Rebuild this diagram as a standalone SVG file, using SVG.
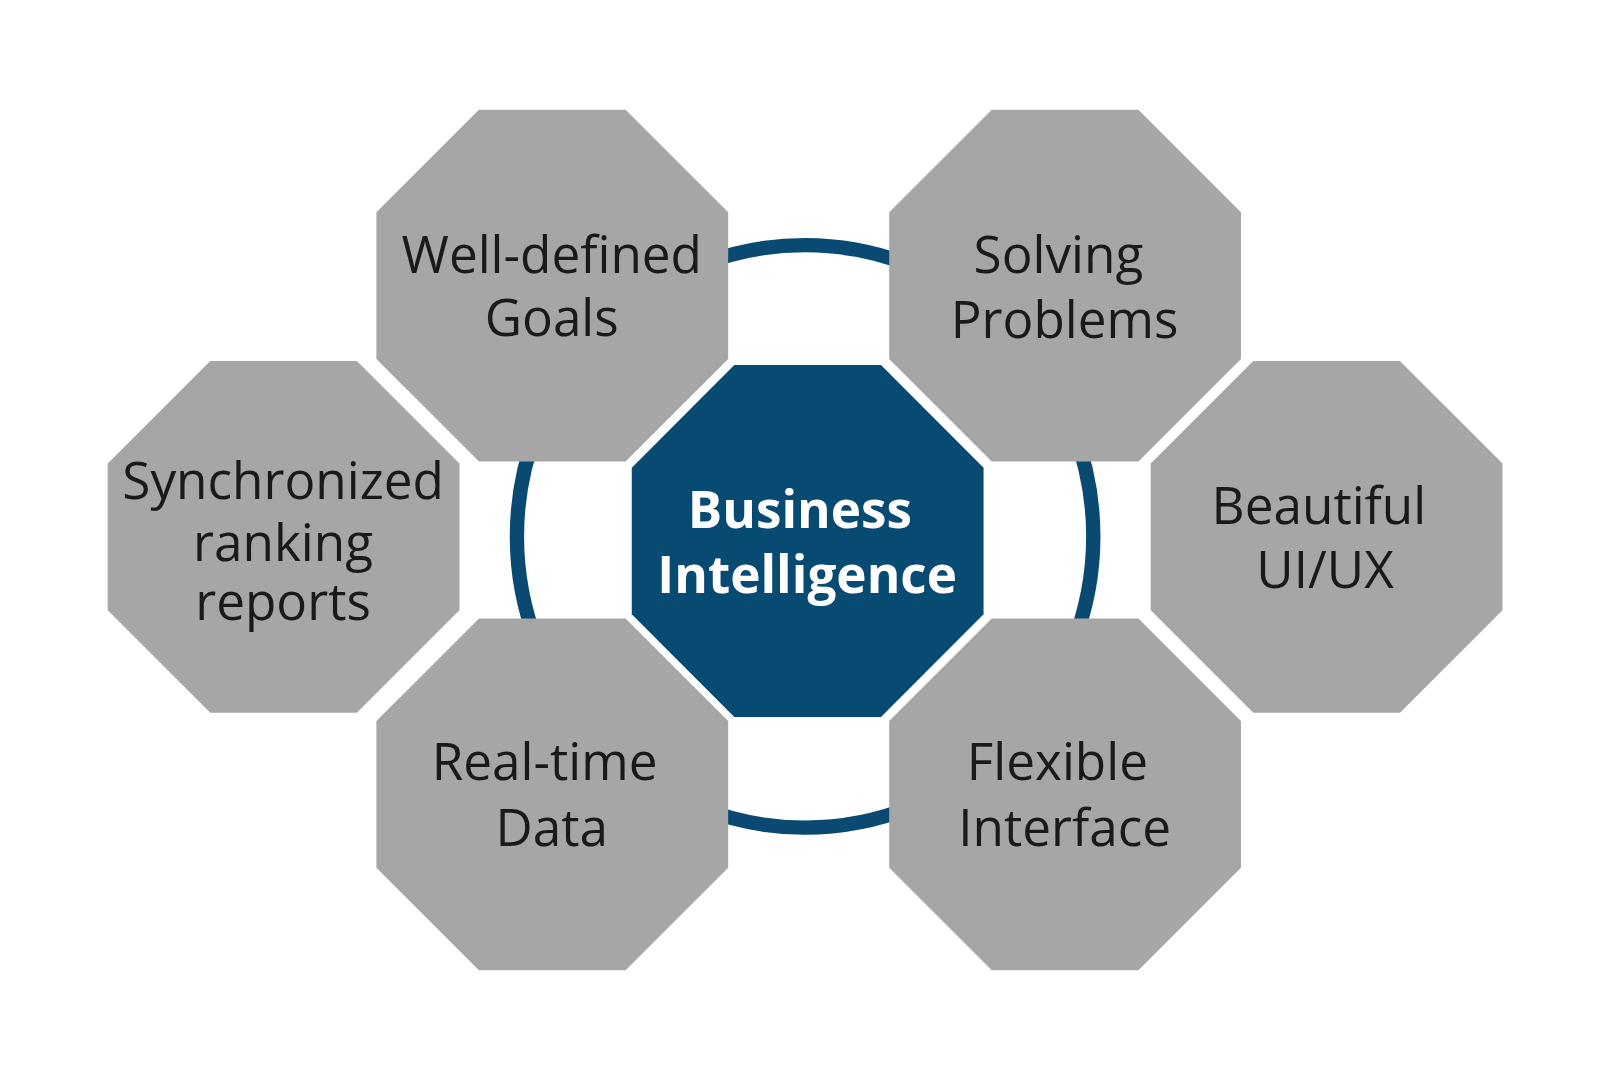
<svg xmlns="http://www.w3.org/2000/svg" width="1600" height="1069" viewBox="0 0 1600 1069">
<style>
.o{fill:#a6a6a6}
.t{font-family:"Open Sans","Noto Sans",sans-serif;font-size:50px;fill:#1a1a1a;text-anchor:middle}
.c{font-family:"Open Sans","Noto Sans",sans-serif;font-size:50px;font-weight:bold;fill:#fff;text-anchor:middle}
</style>
<defs>
<polygon id="oct" points="100,0 243,0 343,100 343,243 243,343 100,343 0,243 0,100"/>
</defs>
<rect width="1600" height="1069" fill="#fff"/>
<g transform="scale(1.0256)">
<g id="connectors">
<ellipse cx="785" cy="523" rx="281" ry="284" fill="none" stroke="#0a4a72" stroke-width="14"/>
</g>
<g id="goals"><use href="#oct" class="o" x="367" y="107"/><text class="t" x="538" y="266">Well-defined</text><text class="t" x="538" y="328">Goals</text></g>
<g id="problems"><use href="#oct" class="o" x="867" y="107"/><text class="t" x="1032" y="266">Solving</text><text class="t" x="1038" y="330">Problems</text></g>
<g id="sync"><use href="#oct" class="o" x="105" y="352"/><text class="t" x="276" y="487">Synchronized</text><text class="t" x="276" y="547">ranking</text><text class="t" x="276" y="605">reports</text></g>
<g id="ui"><use href="#oct" class="o" x="1122" y="352"/><text class="t" x="1286" y="511">Beautiful</text><text class="t" x="1292" y="573">UI/UX</text></g>
<g id="realtime"><use href="#oct" class="o" x="367" y="603"/><text class="t" x="531" y="761">Real-time</text><text class="t" x="538" y="825">Data</text></g>
<g id="flexible"><use href="#oct" class="o" x="867" y="603"/><text class="t" x="1031" y="761">Flexible</text><text class="t" x="1038" y="825">Interface</text></g>
<g id="bi"><use href="#oct" x="616" y="356" fill="#074a72"/><text class="c" x="780" y="515">Business</text><text class="c" x="787" y="578">Intelligence</text></g>
</g>
</svg>
